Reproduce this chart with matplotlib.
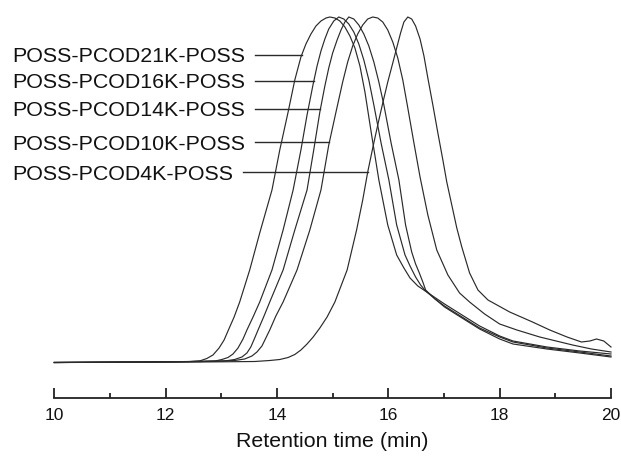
import numpy as np
import matplotlib
matplotlib.use("Agg")
import matplotlib.pyplot as plt
from matplotlib.ticker import MultipleLocator

plt.rcParams['font.family'] = ['Liberation Sans', 'DejaVu Sans']

# ---- data (retention time in min, detector response in a.u.) ----
labels = ["POSS-PCOD21K-POSS", "POSS-PCOD16K-POSS", "POSS-PCOD14K-POSS",
          "POSS-PCOD10K-POSS", "POSS-PCOD4K-POSS"]

t_21k = [10.00, 11.72, 12.44, 12.62, 12.74, 12.85, 12.96, 13.05, 13.12, 13.23, 13.33, 13.51,
         13.69, 13.91, 14.05, 14.20, 14.32, 14.43, 14.52, 14.61, 14.70, 14.79, 14.88, 14.95,
         15.04, 15.13, 15.22, 15.31, 15.40, 15.49, 15.58, 15.70, 15.83, 15.99, 16.15, 16.28,
         16.39, 16.53, 16.69, 16.85, 17.01, 17.41, 17.64, 18.00, 18.24, 18.85, 19.44, 20.00]
s_21k = [-0.5, 0, 0.5, 1.2, 3.5, 7, 14, 22, 31, 45, 60, 92,
         129, 172, 212, 250, 282, 305, 318, 328, 336, 341, 344, 345,
         344, 341, 335, 326, 314, 296, 270, 227, 182, 137, 107, 94,
         84, 76, 70, 64, 58, 44, 36, 26, 21, 15, 11, 8]

t_16k = [10.00, 12.08, 12.89, 13.01, 13.12, 13.21, 13.30, 13.39, 13.46, 13.57, 13.69, 13.91,
         14.11, 14.29, 14.43, 14.54, 14.65, 14.72, 14.79, 14.86, 14.93, 15.02, 15.11, 15.20,
         15.29, 15.38, 15.47, 15.56, 15.65, 15.74, 15.87, 16.01, 16.15, 16.30, 16.39, 16.49,
         16.58, 16.67, 16.84, 17.01, 17.41, 17.64, 18.00, 18.24, 18.85, 19.44, 20.00]
s_16k = [-0.5, 0, 1, 2.5, 4.5, 8, 14, 23, 32, 45, 60, 92,
         132, 172, 212, 247, 278, 296, 311, 323, 333, 341, 345, 343,
         338, 330, 318, 302, 282, 257, 219, 182, 137, 107, 96, 85,
         77, 71, 63, 56, 42, 34, 25, 20, 14, 10, 6]

t_14k = [10.00, 12.62, 13.06, 13.24, 13.37, 13.46, 13.53, 13.60, 13.66, 13.76, 13.87, 14.11,
         14.32, 14.54, 14.66, 14.77, 14.86, 14.93, 15.00, 15.08, 15.15, 15.22, 15.29, 15.38,
         15.47, 15.56, 15.65, 15.74, 15.83, 15.92, 16.05, 16.19, 16.31, 16.42, 16.49, 16.55,
         16.62, 16.67, 16.84, 17.01, 17.41, 17.64, 18.00, 18.24, 18.85, 19.44, 20.00]
s_14k = [-0.5, 0.5, 1, 2.5, 5, 9, 15, 24, 32, 45, 60, 92,
         132, 172, 212, 250, 276, 294, 309, 322, 332, 340, 345, 343,
         337, 328, 316, 300, 280, 257, 219, 182, 137, 110, 98, 90,
         80, 72, 63, 55, 41, 33, 23, 18, 13, 9, 5]

t_10k = [10.00, 12.62, 13.24, 13.42, 13.55, 13.64, 13.73, 13.80, 13.87, 13.98, 14.11, 14.36,
         14.59, 14.79, 14.93, 15.06, 15.18, 15.27, 15.36, 15.45, 15.54, 15.63, 15.72, 15.81,
         15.90, 15.99, 16.08, 16.17, 16.26, 16.35, 16.46, 16.57, 16.71, 16.87, 17.07, 17.28,
         17.46, 17.73, 18.00, 18.31, 18.72, 19.31, 19.65, 20.00]
s_10k = [-0.5, 0.5, 1.5, 3, 6, 10, 16, 24, 32, 46, 60, 92,
         132, 172, 217, 250, 280, 300, 316, 328, 337, 343, 345, 344,
         340, 332, 320, 304, 282, 254, 219, 185, 147, 112, 87, 69,
         60, 48, 38, 32, 25, 17, 13, 10]

t_4k = [10.00, 12.62, 13.60, 13.87, 14.05, 14.20, 14.32, 14.43, 14.54, 14.65, 14.77, 14.90,
        15.04, 15.26, 15.43, 15.54, 15.63, 15.72, 15.81, 15.90, 15.99, 16.08, 16.15, 16.22,
        16.28, 16.35, 16.42, 16.49, 16.57, 16.64, 16.71, 16.80, 16.89, 16.98, 17.05, 17.14,
        17.23, 17.32, 17.46, 17.61, 17.79, 18.18, 18.59, 18.90, 19.21, 19.47, 19.62, 19.74,
        19.87, 20.00]
s_4k = [-0.5, 0, 0.5, 1.5, 2.5, 4.5, 7.5, 12, 18, 25, 34, 45,
        60, 92, 132, 162, 190, 214, 237, 259, 280, 299, 314, 329,
        340, 345, 343, 336, 323, 306, 284, 257, 229, 202, 180, 157,
        134, 115, 89, 72, 62, 50, 40, 32, 25, 20, 21, 23,
        21, 15]

series_t = [t_21k, t_16k, t_14k, t_10k, t_4k]
series_s = [s_21k, s_16k, s_14k, s_10k, s_4k]

# label heights (response level where each leader line meets its trace)
label_levels = [307, 281, 253, 220, 190]
leader_start = [13.60, 13.60, 13.60, 13.60, 13.39]

xticks_major = [10, 12, 14, 16, 18, 20]

# ---- figure ----
W, H = 621, 459
fig = plt.figure(figsize=(W / 100, H / 100), dpi=100)
ax = fig.add_axes([54.3 / W, 61 / H, (611 - 54.3) / W, 388 / H])

line_color = '#2a2a2a'
for t, s in zip(series_t, series_s):
    ax.plot(t, s, color=line_color, lw=0.85, solid_joinstyle='round', clip_on=False)

# labels with leader lines to the rising edge of each trace
for lab, lvl, x0, t, s in zip(labels, label_levels, leader_start, series_t, series_s):
    t = np.asarray(t)
    s = np.asarray(s)
    ipk = int(np.argmax(s))
    x_end = np.interp(lvl, s[:ipk + 1], t[:ipk + 1])
    ax.plot([x0, x_end], [lvl, lvl], color=line_color, lw=1.0)
    ax.text(9.24, lvl - 7.5, lab, fontsize=15.4, ha='left', va='baseline',
            color='#111111', clip_on=False)

ax.set_xlim(10, 20)
ax.set_ylim(-36, 352)
for side in ['left', 'right', 'top']:
    ax.spines[side].set_visible(False)
ax.spines['bottom'].set_linewidth(1.3)
ax.spines['bottom'].set_color('#222222')
ax.set_yticks([])
ax.set_xticks(xticks_major)
ax.xaxis.set_minor_locator(MultipleLocator(1))
ax.tick_params(axis='x', which='major', direction='in', length=7.2, width=1.3,
               labelsize=12.5, pad=7.5, color='#222222', labelcolor='#111111')
ax.tick_params(axis='x', which='minor', direction='in', length=3.6, width=1.3,
               color='#222222')
ax.set_xlabel('Retention time (min)', fontsize=15.4, labelpad=6, color='#111111')

fig.savefig('out.png', dpi=100)
